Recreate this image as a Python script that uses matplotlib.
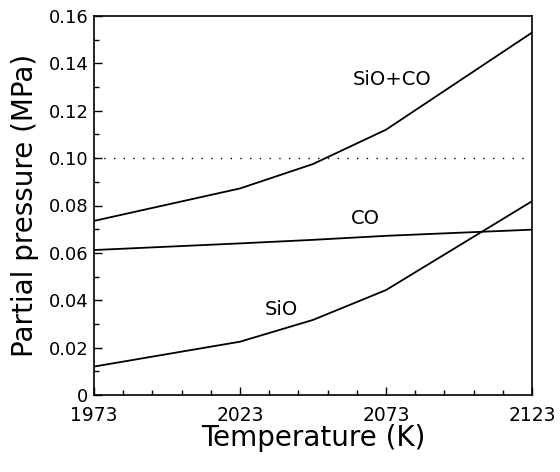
import matplotlib
matplotlib.use("Agg")
import matplotlib.pyplot as plt
from matplotlib.ticker import FixedLocator

# Temperatures (K) and partial pressures (MPa)
temperature = [1973, 2023, 2048, 2073, 2123]
p_sio = [0.012, 0.0225, 0.0317, 0.0443, 0.0818]
p_co = [0.0612, 0.0640, 0.0655, 0.0672, 0.0698]
p_total = [0.0735, 0.0872, 0.0975, 0.1120, 0.1530]
reference_pressure = 0.10

x_ticks = [1973, 2023, 2073, 2123]
y_ticks = [0, 0.02, 0.04, 0.06, 0.08, 0.10, 0.12, 0.14, 0.16]
y_tick_labels = ["0", "0.02", "0.04", "0.06", "0.08", "0.10", "0.12", "0.14", "0.16"]

plt.rcParams["font.family"] = ["DejaVu Sans"]

fig = plt.figure(figsize=(5.6, 4.72), dpi=100)
ax = fig.add_axes([94 / 560, 1 - 395 / 472, (532 - 94) / 560, (395 - 16) / 472])

line_kw = dict(color="black", lw=1.3)
ax.plot(temperature, p_total, **line_kw)
ax.plot(temperature, p_co, **line_kw)
ax.plot(temperature, p_sio, **line_kw)
ax.axhline(reference_pressure, xmin=0, xmax=0.99, color="black", lw=1.0,
           linestyle=(0, (1, 6)))

ax.text(2075, 0.133, "SiO+CO", fontsize=14, ha="center", va="center")
ax.text(2066, 0.0745, "CO", fontsize=14, ha="center", va="center")
ax.text(2037, 0.036, "SiO", fontsize=14, ha="center", va="center")

ax.set_xlim(1973, 2123)
ax.set_ylim(0, 0.16)
ax.set_xticks(x_ticks)
ax.set_yticks(y_ticks)
ax.set_yticklabels(y_tick_labels)
ax.xaxis.set_minor_locator(FixedLocator(list(range(1973, 2124, 10))))
ax.yaxis.set_minor_locator(FixedLocator([i * 0.01 for i in range(17)]))
ax.tick_params(which="both", direction="in", top=False, right=False, width=1.0)
ax.tick_params(which="major", length=6)
ax.tick_params(which="minor", length=3.5)
ax.tick_params(axis="x", which="major", labelsize=13.5, pad=8)
ax.tick_params(axis="y", which="major", labelsize=13, pad=4)
for s in ax.spines.values():
    s.set_linewidth(1.2)

ax.set_xlabel("Temperature (K)", fontsize=20, labelpad=-1)
ax.set_ylabel("Partial pressure (MPa)", fontsize=20, labelpad=7)

fig.savefig("out.png", dpi=100)
